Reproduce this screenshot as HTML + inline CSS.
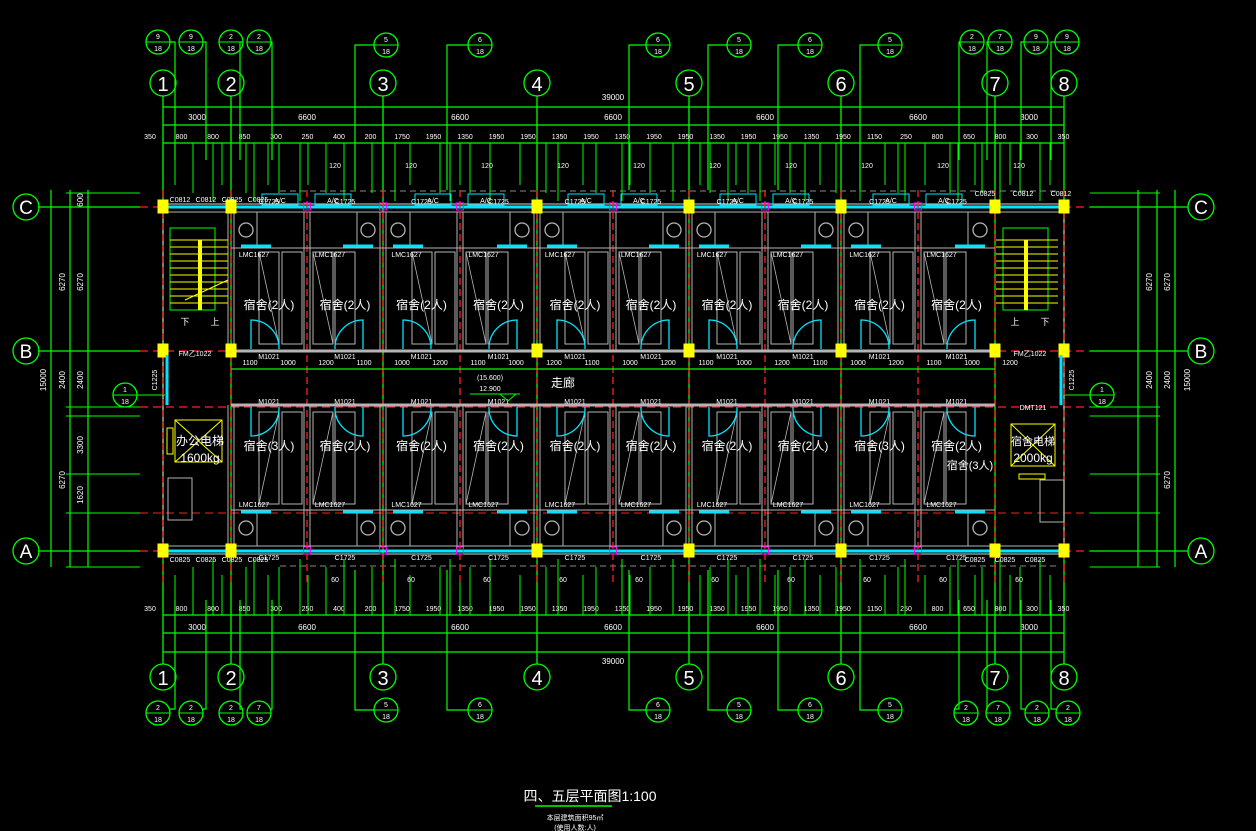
<!DOCTYPE html>
<html><head><meta charset="utf-8">
<style>
html,body{margin:0;padding:0;background:#000;width:1256px;height:831px;overflow:hidden}
svg{display:block}
text{font-family:"Liberation Sans","Noto Sans CJK SC",sans-serif;fill:#fff}
</style></head>
<body>
<svg id="s" width="1256" height="831" viewBox="0 0 1256 831" xmlns="http://www.w3.org/2000/svg"></svg>
<script>
var o=[];
var G='#00ff00',R='#ff2020',C='#00e5ff',Y='#ffff00',W='#ffffff',GR='#b4b4b4';
function L(x1,y1,x2,y2,c,w,d){o.push('<line x1="'+x1+'" y1="'+y1+'" x2="'+x2+'" y2="'+y2+'" stroke="'+c+'" stroke-width="'+(w||1)+'"'+(d?' stroke-dasharray="'+d+'"':'')+'/>');}
function RC(x,y,w,h,c,f,sw){o.push('<rect x="'+x+'" y="'+y+'" width="'+w+'" height="'+h+'" fill="'+(f||'none')+'" stroke="'+c+'" stroke-width="'+(sw||1)+'"/>');}
function CI(x,y,r,c){o.push('<circle cx="'+x+'" cy="'+y+'" r="'+r+'" fill="none" stroke="'+c+'" stroke-width="1.3"/>');}
function T(x,y,s,t,sz,a,rot){o.push('<text x="'+x+'" y="'+y+'" font-size="'+sz+'" text-anchor="'+(a||'middle')+'"'+(rot?' transform="rotate('+rot+' '+x+' '+y+')"':'')+' fill="'+(s||W)+'">'+t+'</text>');}
function P(d,c,w){o.push('<path d="'+d+'" fill="none" stroke="'+c+'" stroke-width="'+(w||1)+'"/>');}

var AX=[163,231,383,537,689,841,995,1064];
AX.forEach(function(x,i){L(x,96,x,664,G,1.3);CI(x,83,13,G);T(x,91,W,i+1,20);CI(x,677,13,G);T(x,685,W,i+1,20);});
[[207,'C'],[351,'B'],[551,'A']].forEach(function(a){var y=a[0];L(38,y,140,y,G,1.3);L(1090,y,1188,y,G,1.3);CI(26,y,13,G);T(26,y+7,W,a[1],19);CI(1201,y,13,G);T(1201,y+7,W,a[1],19);
 L(140,y,1090,y,R,1.3,'8,5');});
L(140,407,1090,407,R,1.3,'8,5');L(140,513,1090,513,R,1,'8,5');
L(280,191,1060,191,'#888',1,'6,4');L(280,566,1060,566,'#888',1,'6,4');
[107,125,143,615,633,652].forEach(function(y){L(163,y,1064,y,G,1.2);});
T(613,100,W,'39000',8);T(613,664,W,'39000',8);
[[197,'3000'],[307,'6600'],[460,'6600'],[613,'6600'],[765,'6600'],[918,'6600'],[1029,'3000']].forEach(function(a){T(a[0],120,W,a[1],8);T(a[0],630,W,a[1],8);});
var dimN=['350','800','800','850','300','250','400','200','1750','1950','1350','1950','1950','1350','1950','1350','1950','1950','1350','1950','1950','1350','1950','1150','250','800','650','800','300','350'];
for(var i=0;i<dimN.length;i++){var x=150+i*31.5;T(x,139,W,dimN[i],7);T(x,611,W,dimN[i],7);}
var vx=[175,193,213,222,246,254,268,279,300,308,326,344,355,372,395,410,440,450,460,470,490,520,546,558,583,596,622,630,650,673,700,710,728,736,748,760,775,790,805,820,836,860,885,898,905,925,950,958,975,982,1000,1010,1020,1040,1050];
vx.forEach(function(x,i){L(x,143,x,185+(i%3)*8,G,1);L(x,575-(i%3)*8,x,615,G,1);});
for(var x=240;x<990;x+=76){T(x+95,168,W,(Math.round(x)%2?'60':'120'),7);T(x+95,582,W,'60',7);}
function DB(x,y,a,b){CI(x,y,12,G);L(x-12,y,x+12,y,G,1);T(x,y-3,W,a,7);T(x,y+9,W,b,7);}
[[158,42,'9','18',175],[191,42,'9','18',206],[231,42,'2','18',240],[259,42,'2','18',272]].forEach(function(a){DB(a[0],a[1],a[2],a[3]);P('M'+(a[0]+12)+' '+a[1]+' H'+a[4]+' V160',G,1.2);});
[[386,45,'5','18',355],[480,45,'6','18',447],[658,45,'6','18',629],[739,45,'5','18',708],[810,45,'6','18',778],[890,45,'5','18',860]].forEach(function(a){DB(a[0],a[1],a[2],a[3]);P('M'+(a[0]-12)+' '+a[1]+' H'+a[4]+' V190',G,1.2);});
[[972,42,'2','18',959],[1000,42,'7','18',987],[1036,42,'9','18',1021],[1067,42,'9','18',1051]].forEach(function(a){DB(a[0],a[1],a[2],a[3]);P('M'+(a[0]-12)+' '+a[1]+' H'+a[4]+' V160',G,1.2);});
[[158,713,'2','18',175],[191,713,'2','18',206],[231,713,'2','18',240],[259,713,'7','18',272]].forEach(function(a){DB(a[0],a[1],a[2],a[3]);P('M'+(a[0]+12)+' '+(a[1]-4)+' H'+a[4]+' V600',G,1.2);});
[[386,710,'5','18',355],[480,710,'6','18',447],[658,710,'6','18',629],[739,710,'5','18',708],[810,710,'6','18',778],[890,710,'5','18',860]].forEach(function(a){DB(a[0],a[1],a[2],a[3]);P('M'+(a[0]-12)+' '+a[1]+' H'+a[4]+' V570',G,1.2);});
[[966,713,'2','18',959],[998,713,'7','18',987],[1037,713,'2','18',1021],[1068,713,'2','18',1051]].forEach(function(a){DB(a[0],a[1],a[2],a[3]);P('M'+(a[0]-12)+' '+(a[1]-4)+' H'+a[4]+' V600',G,1.2);});
[51,70,88].forEach(function(x){L(x,190,x,567,G,1.2);});
[1138,1157,1175].forEach(function(x){L(x,190,x,567,G,1.2);});
[193,207,351,407,416,474,513,551,567].forEach(function(y){L(66,y,140,y,G,1);L(1090,y,1160,y,G,1);});
T(65,282,W,'6270',8,'middle',-90);T(83,282,W,'6270',8,'middle',-90);T(46,380,W,'15000',8,'middle',-90);
T(65,380,W,'2400',8,'middle',-90);T(83,380,W,'2400',8,'middle',-90);T(65,480,W,'6270',8,'middle',-90);
T(83,445,W,'3300',8,'middle',-90);T(83,495,W,'1620',8,'middle',-90);T(83,200,W,'600',8,'middle',-90);
T(1152,282,W,'6270',8,'middle',-90);T(1170,282,W,'6270',8,'middle',-90);T(1190,380,W,'15000',8,'middle',-90);
T(1152,380,W,'2400',8,'middle',-90);T(1170,380,W,'2400',8,'middle',-90);T(1170,480,W,'6270',8,'middle',-90);
CI(125,395,12,G);L(113,395,137,395,G,1);T(125,392,W,'1',7);T(125,404,W,'18',7);L(137,395,165,395,G,1);
CI(1102,395,12,G);L(1090,395,1114,395,G,1);T(1102,392,W,'1',7);T(1102,404,W,'18',7);L(1064,395,1090,395,G,1);
RC(163,204,901,350,GR,'none',1.2);
L(163,207,1064,207,C,3);L(163,551,1064,551,C,3);
L(163,212,1064,212,GR,1);L(163,546,1064,546,GR,1);
var P1=[231,307,383,460,537,613,689,765,841,918,995];
for(var i=0;i<P1.length;i++){var x=P1[i];L(x,190,x,585,R,1.3,'7,4');}
L(163,190,163,585,R,1.3,'7,4');L(1064,190,1064,585,R,1.3,'7,4');
L(231,351,995,351,GR,3);L(231,405,995,405,GR,3);
for(var i=0;i<P1.length-1;i++){
 var a=P1[i],b=P1[i+1],m=(a+b)/2,lft=(i%2==0);
 L(a-3,212,a-3,351,GR,1);L(a+3,212,a+3,351,GR,1);
 L(a-3,405,a-3,546,GR,1);L(a+3,405,a+3,546,GR,1);
 RC(lft?b-50:a+3,212,47,36,GR);L(a,248,b,248,GR,1);
 RC(lft?b-48:a+6,252,20,92,GR);L(lft?b-48:a+6,252,lft?b-28:a+26,344,GR,0.8);
 RC(lft?b-25:a+28,252,20,92,GR);
 CI(lft?a+15:b-15,230,7,GR);
 RC(lft?b-45:a+8,194,36,11,C);T(lft?b-27:a+26,203,C,'A/C',7);
 T(m,204,W,'C1725',7);T(m-15,257,W,'LMC1627',7);T(m,309,W,'宿舍(2人)',12);
 var dx=lft?a+20:b-20; P('M'+dx+' 349 V320 A28 28 0 0 '+(lft?1:0)+' '+(lft?dx+28:dx-28)+' 349',C,1.3);
 T(m,359,W,'M1021',7);
 L(lft?a+10:b-40,246,lft?a+40:b-10,246,C,3);
 RC(lft?b-50:a+3,510,47,36,GR);L(a,510,b,510,GR,1);
 RC(lft?b-48:a+6,412,20,92,GR);L(lft?b-48:a+6,504,lft?b-28:a+26,412,GR,0.8);
 RC(lft?b-25:a+28,412,20,92,GR);
 CI(lft?a+15:b-15,528,7,GR);
 T(m,560,W,'C1725',7);T(m-15,507,W,'LMC1627',7);T(m,450,W,(i==0||i==8)?'宿舍(3人)':'宿舍(2人)',12);
 P('M'+dx+' 407 V436 A28 28 0 0 '+(lft?0:1)+' '+(lft?dx+28:dx-28)+' 407',C,1.3);
 T(m,404,W,'M1021',7);
 L(lft?a+10:b-40,512,lft?a+40:b-10,512,C,3);
}
L(231,369,995,369,G,1.2);
for(var x=231;x<995;x+=38)T(x+19,365,W,['1100','1000','1200'][Math.round(x/38)%3],7);
T(490,380,W,'(15.600)',7);T(490,391,W,'12.900',7);L(470,394,520,394,G,1);P('M500 394 l8 7 l8 -7',G,1);
T(563,387,W,'走廊',12);
RC(170,228,45,82,G);for(var y=240;y<310;y+=7)L(170,y,228,y,Y,1);L(200,240,200,310,Y,4);L(185,300,228,280,Y,1);
T(185,325,W,'下',9);T(215,325,W,'上',9);T(195,356,W,'FM乙1022',7);
RC(1003,228,45,82,G);for(var y=240;y<310;y+=7)L(996,y,1058,y,Y,1);L(1026,240,1026,310,Y,4);
T(1015,325,W,'上',9);T(1045,325,W,'下',9);T(1030,356,W,'FM乙1022',7);
RC(175,420,47,42,Y);L(175,420,222,462,Y,1);L(222,420,175,462,Y,1);RC(167,428,6,26,Y);
T(200,445,W,'办公电梯',12);T(200,462,W,'1600kg',12);
RC(1011,424,44,42,Y);L(1011,424,1055,466,Y,1);L(1055,424,1011,466,Y,1);RC(1019,474,26,5,Y);
T(1033,445,W,'宿舍电梯',11);T(1033,462,W,'2000kg',12);T(970,469,W,'宿舍(3人)',11);
T(1033,410,W,'DMT121',7);
RC(168,478,24,42,GR);RC(1040,480,24,42,GR);
[163,231,537,689,841,995,1064].forEach(function(x){[207,351,551].forEach(function(y){RC(x-5,y-7,10,13,Y,Y);});});
[383,460,613,765,918,307].forEach(function(x){RC(x-3.5,203,7,7,'#ff00ff');RC(x-3.5,547,7,7,'#ff00ff');});
['C0812','C0812','C0825','C0825'].forEach(function(t,i){T(180+i*26,202,W,t,7);T(180+i*26,562,W,'C0825',7);});
['C0825','C0812','C0812'].forEach(function(t,i){T(985+i*38,196,W,t,7);T(975+i*30,562,W,'C0825',7);});
L(167,355,167,405,C,3);L(1061,355,1061,405,C,3);
T(157,380,W,'C1225',7,'middle',-90);T(1074,380,W,'C1225',7,'middle',-90);
T(590,801,W,'四、五层平面图1:100',14);L(535,806,612,806,G,1.5);
T(575,820,W,'本层建筑面积95㎡',7);T(575,830,W,'(使用人数:人)',7);
document.getElementById('s').innerHTML=o.join('');
</script>
</body></html>
